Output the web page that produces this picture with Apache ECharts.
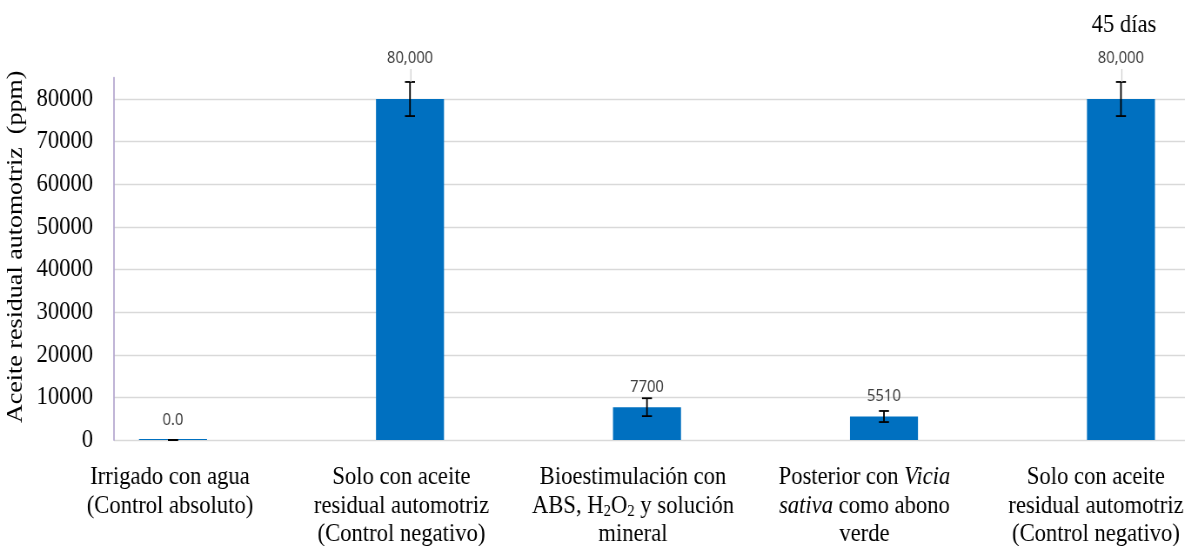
<!DOCTYPE html>
<html>
<head>
<meta charset="utf-8">
<script src="https://cdn.jsdelivr.net/npm/echarts@6/dist/echarts.min.js"></script>
<style>
  html, body { margin: 0; padding: 0; background: #ffffff; overflow: hidden; }
  #frame { width: 1185px; height: 546px; overflow: hidden; position: relative; }
  /* chart is laid out wider, then condensed horizontally (narrow serif type) */
  #chart { width: 1362px; height: 546px; transform: scaleX(0.87); transform-origin: 0 0; position: absolute; left: 0; top: 0; }
</style>
</head>
<body>
<div id="frame"><div id="chart"></div></div>
<script>
// Treatments (rich-text markup for subscripts and italics)
const categories = [
  'Irrigado con agua\n(Control absoluto)',
  'Solo con aceite\nresidual automotriz\n(Control negativo)',
  'Bioestimulación con\nABS, H{sub|2}O{sub|2} y solución\nmineral',
  'Posterior con {i|Vicia}\n{i|sativa} como abono\nverde',
  'Solo con aceite\nresidual automotriz\n(Control negativo)'
];
// Residual oil (ppm) and its error
const values = [0, 80000, 7700, 5510, 80000];
const errors = [0, 4000, 2100, 1300, 4000];
const valueLabels = ['0.0', '80,000', '7700', '5510', '80,000'];
const yTicks = [0, 10000, 20000, 30000, 40000, 50000, 60000, 70000, 80000];
const periodLabel = '45 días';
const yName = 'Aceite residual automotriz  (ppm)';

const SX = 0.87;                 // horizontal condensing factor
const px = (v) => v / SX;        // screen px -> layout px (horizontal)
const SERIF = '"Liberation Serif", "Times New Roman", serif';
const Y_MAX = 85000;
const Y_STEP = 10000;

const chart = echarts.init(document.getElementById('chart'), null, { renderer: 'canvas' });

// grid lines: gray for each labelled tick, none on the top edge
const gridColors = yTicks.map(() => '#d9d9d9').concat(['rgba(0,0,0,0)', 'rgba(0,0,0,0)']);

const errorData = values.map((v, i) => [i, v, errors[i]]);

const vertical = { top: 77.7, bottom: 106, containLabel: false, outerBoundsMode: 'none' };

chart.setOption({
  backgroundColor: '#ffffff',
  animation: false,
  grid: [
    // bars
    Object.assign({ left: px(54.5), right: -px(54.5) }, vertical),
    // value axis and grid lines
    Object.assign({ left: px(114), right: 0 }, vertical),
    // category captions, packed slightly tighter so the last one stays in view
    Object.assign({ left: px(54.25), right: -px(26.75) }, vertical)
  ],
  xAxis: [
    {
      type: 'category',
      gridIndex: 0,
      data: categories,
      axisLine: { show: false },
      axisTick: { show: false },
      axisLabel: { show: false }
    },
    {
      type: 'value',
      gridIndex: 1,
      min: 0,
      max: 1,
      show: false
    },
    {
      type: 'category',
      gridIndex: 2,
      data: categories,
      axisLine: { show: false },
      axisTick: { show: false },
      splitLine: { show: false },
      axisLabel: {
        interval: 0,
        margin: 23,
        color: '#000000',
        fontFamily: SERIF,
        fontSize: 26,
        lineHeight: 28.5,
        align: 'center',
        hideOverlap: false,
        rich: {
          sub: { fontFamily: SERIF, fontSize: 17, lineHeight: 16, verticalAlign: 'bottom', color: '#000000' },
          i: { fontFamily: SERIF, fontSize: 26, lineHeight: 28.5, fontStyle: 'italic', color: '#000000' }
        }
      }
    }
  ],
  yAxis: [
    {
      type: 'value',
      gridIndex: 0,
      min: 0,
      max: Y_MAX,
      interval: Y_STEP,
      show: false
    },
    {
      type: 'value',
      gridIndex: 1,
      min: 0,
      max: Y_MAX,
      interval: Y_STEP,
      name: yName,
      nameLocation: 'middle',
      nameGap: 80,
      nameTextStyle: {
        fontFamily: SERIF,
        fontSize: 26,
        color: '#000000',
        padding: [0, 0, 0, 24]
      },
      axisLine: { show: true, lineStyle: { color: '#b4a7cf', width: 1.7 } },
      axisTick: { show: false },
      axisLabel: {
        margin: px(21),
        color: '#000000',
        fontFamily: SERIF,
        fontSize: 26,
        formatter: (v) => (yTicks.indexOf(v) >= 0 ? String(v) : '')
      },
      splitLine: { show: true, lineStyle: { color: gridColors, width: 1.3 } }
    },
    {
      type: 'value',
      gridIndex: 2,
      min: 0,
      max: Y_MAX,
      show: false
    }
  ],
  graphic: [
    {
      type: 'text',
      x: px(1124),
      y: 25,
      style: {
        text: periodLabel,
        font: '26px ' + SERIF,
        fill: '#000000',
        align: 'center',
        verticalAlign: 'middle'
      }
    }
  ],
  series: [
    {
      type: 'bar',
      xAxisIndex: 0,
      yAxisIndex: 0,
      data: values,
      barWidth: px(68),
      barMinHeight: 1,
      itemStyle: { color: '#0070C0' },
      z: 2
    },
    {
      type: 'custom',
      xAxisIndex: 0,
      yAxisIndex: 0,
      data: errorData,
      z: 5,
      renderItem: function (params, api) {
        const idx = api.value(0);
        const v = api.value(1);
        const e = api.value(2);
        const top = api.coord([idx, v + e]);
        const bot = api.coord([idx, v - e]);
        const mid = api.coord([idx, v]);
        const cap = px(5);
        const lineStyle = { stroke: '#000000', lineWidth: 1.8 };
        const children = [
          { type: 'line', shape: { x1: top[0], y1: top[1], x2: bot[0], y2: bot[1] }, style: lineStyle },
          { type: 'line', shape: { x1: top[0] - cap, y1: top[1], x2: top[0] + cap, y2: top[1] }, style: lineStyle },
          { type: 'line', shape: { x1: bot[0] - cap, y1: bot[1], x2: bot[0] + cap, y2: bot[1] }, style: lineStyle }
        ];
        // value label: sits above the bar unless the error bar reaches it
        let ly = mid[1] - 20;
        let lifted = false;
        if (top[1] < ly + 10) {
          ly = top[1] - 24;
          lifted = true;
        }
        if (lifted) {
          children.push({
            type: 'line',
            shape: { x1: top[0] + 1, y1: ly + 11, x2: top[0] + 1, y2: top[1] },
            style: { stroke: '#d0d0d0', lineWidth: 1.2 }
          });
        }
        children.push({
          type: 'text',
          x: mid[0],
          y: ly,
          style: {
            text: valueLabels[params.dataIndex],
            fill: '#404040',
            font: '17px "Noto Sans", "Liberation Sans", sans-serif',
            align: 'center',
            verticalAlign: 'middle'
          }
        });
        return { type: 'group', children: children };
      }
    }
  ]
});
</script>
</body>
</html>
